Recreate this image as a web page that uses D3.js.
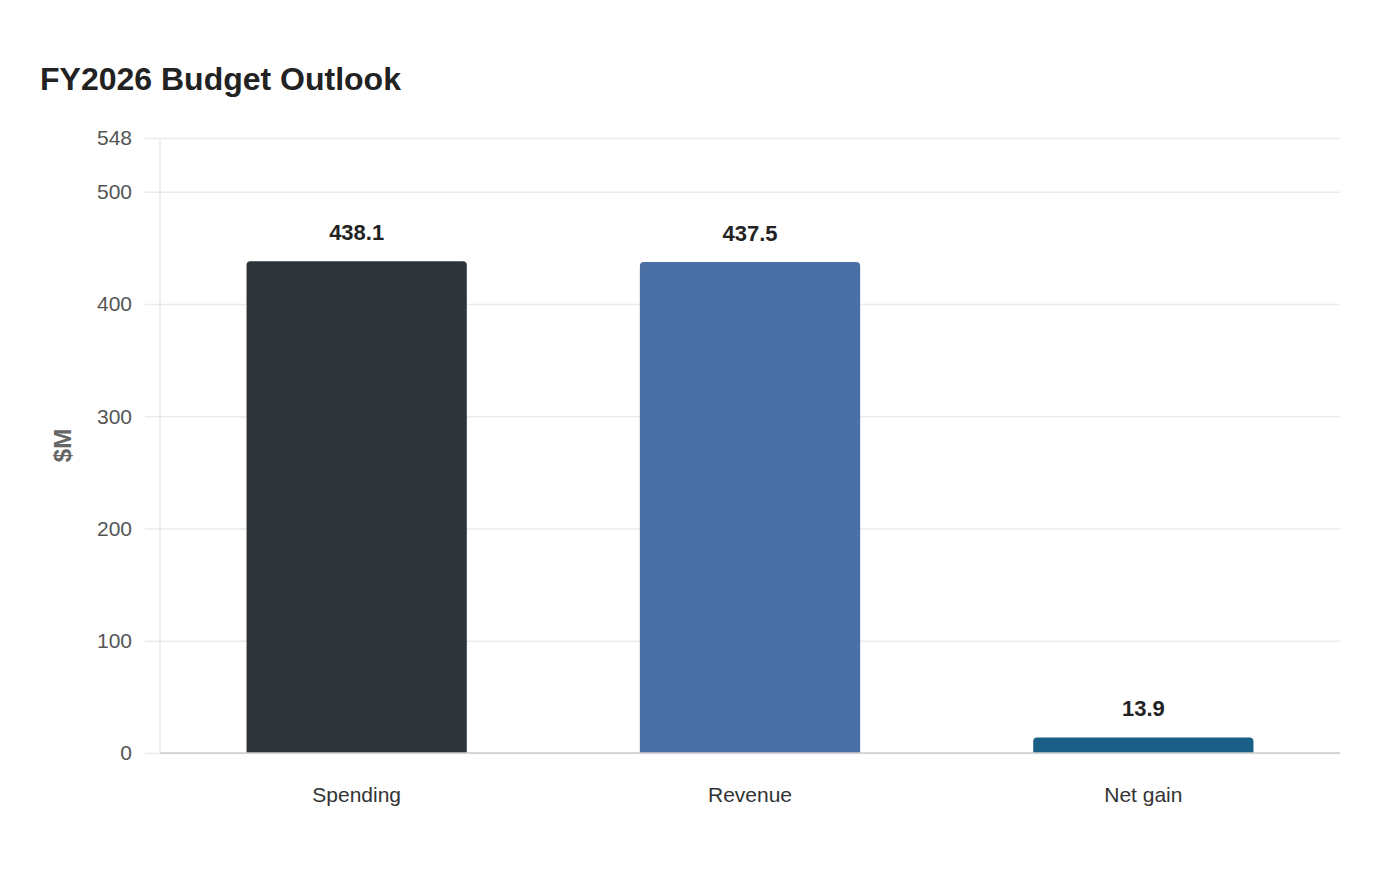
<!DOCTYPE html>
<html>
<head>
<meta charset="utf-8">
<script src="https://cdn.jsdelivr.net/npm/d3@7"></script>
<style>
  body { margin: 0; background: #fff; }
  text { font-family: "Liberation Sans", Arial, sans-serif; }
</style>
</head>
<body>
<svg id="chart" width="1400" height="880"></svg>
<script>
const categories = ["Spending", "Revenue", "Net gain"];
const values = [438.1, 437.5, 13.9];
const barColors = ["#2e3538", "#4a6fa5", "#1a5f86"];
const yTicks = [0, 100, 200, 300, 400, 500, 548];
const yMax = 548;

const margin = { top: 138, right: 60, bottom: 127, left: 160 };
const width = 1400 - margin.left - margin.right;
const height = 880 - margin.top - margin.bottom;

const svg = d3.select("#chart");

svg.append("text")
  .attr("x", 40)
  .attr("y", 90)
  .attr("font-size", 32)
  .attr("font-weight", "bold")
  .attr("fill", "#222")
  .text("FY2026 Budget Outlook");

const g = svg.append("g")
  .attr("transform", "translate(" + margin.left + "," + margin.top + ")");

const x = d3.scaleBand().domain(categories).range([0, width]).padding(0);
const y = d3.scaleLinear().domain([0, yMax]).range([height, 0]);

// grid + tick labels
const yAxis = g.append("g")
  .attr("class", "y-axis")
  .call(d3.axisLeft(y).tickValues(yTicks).tickSize(-width - 15).tickPadding(12));
yAxis.select(".domain").remove();
yAxis.selectAll(".tick line")
  .attr("x1", -15)
  .attr("x2", width)
  .attr("stroke", "#ebebeb")
  .attr("stroke-width", 1.5);
yAxis.selectAll(".tick text")
  .attr("x", -28)
  .attr("font-size", 21)
  .attr("fill", "#555");

// left axis line
g.append("line")
  .attr("x1", 0).attr("x2", 0)
  .attr("y1", 0).attr("y2", height)
  .attr("stroke", "#e0e0e0");

// bars with rounded top corners
const bw = x.bandwidth() * 0.56;
const r = 4;
function barPath(d, i) {
  const x0 = x(categories[i]) + (x.bandwidth() - bw) / 2;
  const x1 = x0 + bw;
  const yt = y(d);
  const yb = y(0);
  const rr = Math.min(r, (yb - yt));
  return "M" + x0 + "," + yb +
    "V" + (yt + rr) +
    "Q" + x0 + "," + yt + " " + (x0 + rr) + "," + yt +
    "H" + (x1 - rr) +
    "Q" + x1 + "," + yt + " " + x1 + "," + (yt + rr) +
    "V" + yb + "Z";
}

g.selectAll("path.bar")
  .data(values)
  .enter()
  .append("path")
  .attr("class", "bar")
  .attr("d", barPath)
  .attr("fill", (d, i) => barColors[i]);

g.selectAll("text.value")
  .data(values)
  .enter()
  .append("text")
  .attr("class", "value")
  .attr("x", (d, i) => x(categories[i]) + x.bandwidth() / 2)
  .attr("y", (d) => y(d) - 21)
  .attr("text-anchor", "middle")
  .attr("font-size", 22)
  .attr("font-weight", "bold")
  .attr("fill", "#222")
  .text((d) => d.toFixed(1));

// baseline
g.append("line")
  .attr("x1", 0).attr("x2", width)
  .attr("y1", height).attr("y2", height)
  .attr("stroke", "#cccccc")
  .attr("stroke-width", 1.5);

// x axis labels
const xAxis = g.append("g")
  .attr("transform", "translate(0," + height + ")")
  .call(d3.axisBottom(x).tickSize(0).tickPadding(34));
xAxis.select(".domain").remove();
xAxis.selectAll(".tick text")
  .attr("font-size", 21)
  .attr("fill", "#333");

// y label
svg.append("text")
  .attr("transform", "translate(71," + (margin.top + height / 2) + ") rotate(-90)")
  .attr("text-anchor", "middle")
  .attr("font-size", 24)
  .attr("font-weight", "bold")
  .attr("fill", "#666")
  .text("$M");
</script>
</body>
</html>
